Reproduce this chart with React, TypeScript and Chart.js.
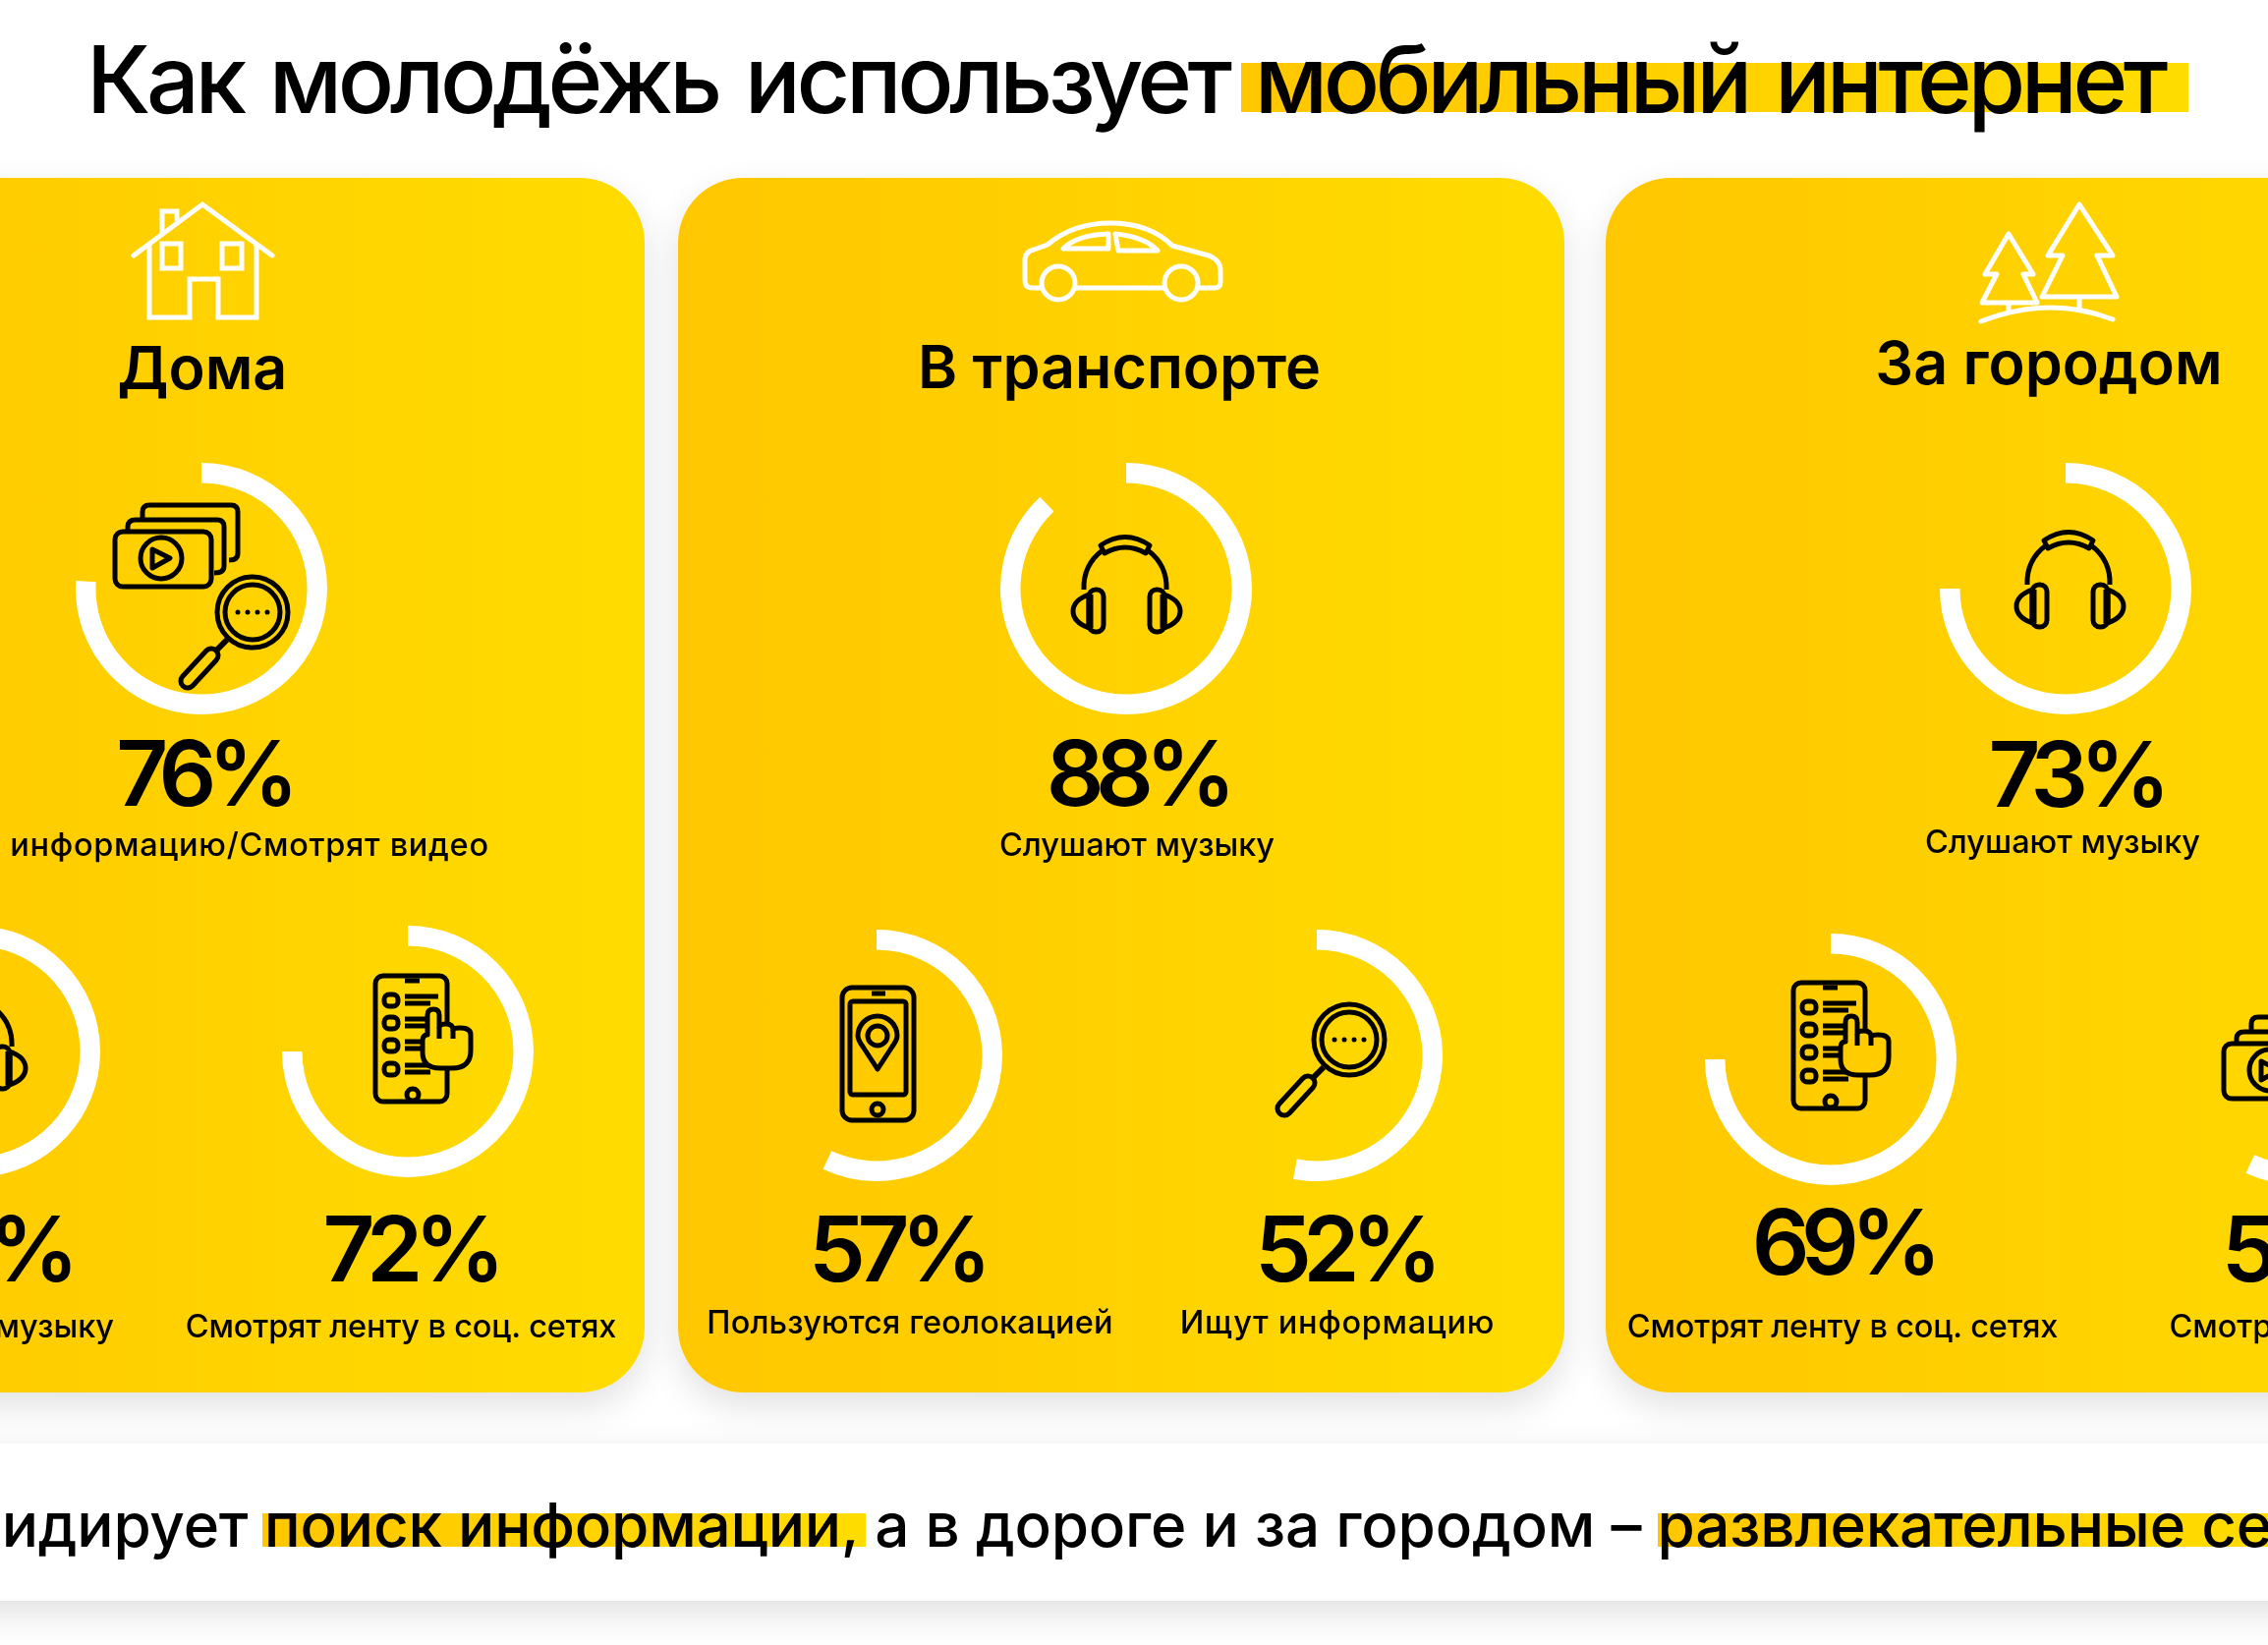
import { Chart, registerables } from "chart.js";
import { useEffect, useRef } from "react";

Chart.register(...registerables);

// значения с картинки
const percentLabels = ["76%", "74%", "72%", "88%", "57%", "52%", "73%", "69%", "55%"];
const arcValues = [76, 74, 75, 88, 57, 53, 75, 75, 57];
const captions = [
    "Ищут информацию/Смотрят видео",
    "Слушают музыку",
    "Смотрят ленту в соц. сетях",
    "Слушают музыку",
    "Пользуются геолокацией",
    "Ищут информацию",
    "Слушают музыку",
    "Смотрят ленту в соц. сетях",
    "Смотрят видео",
];
const places = ["Дома", "В транспорте", "За городом"];

// разметка
const gaugeX = [205, -26, 415, 1146, 892, 1340, 2102, 1863, 2340];
const gaugeY = [599, 1070, 1070, 599, 1074, 1074, 599, 1078, 1078];
const percentX = [207, -16, 417, 1157, 912, 1368, 2112, 1875, 2352];
const percentY = [820, 1304, 1304, 820, 1304, 1304, 821, 1297, 1304];
const captionX = [204, -24, 408, 1157, 926, 1361, 2099, 1875, 2330];
const captionY = [871, 1361, 1361, 871, 1357, 1357, 868, 1361, 1361];
const captionSpacing = [0.7, 0, -0.15, 0, 0.15, 0.7, 0, -0.15, 0];
const placeX = [206, 1139, 2085];
const placeY = [396, 395, 391];
const cardX = [-246, 690, 1634];

const FONT = "Inter, sans-serif";
const CARD_W = 902;

function Gauge({ value, x, y }: { value: number; x: number; y: number }) {
    const canvasRef = useRef<HTMLCanvasElement | null>(null);

    useEffect(() => {
        const chart = new Chart(canvasRef.current!, {
            type: "doughnut",
            data: {
                datasets: [
                    {
                        data: [value, 100 - value],
                        backgroundColor: ["#ffffff", "rgba(0,0,0,0)"],
                        borderWidth: 0,
                    },
                ],
            },
            options: {
                animation: false,
                responsive: false,
                cutout: "84%",
                plugins: { legend: { display: false }, tooltip: { enabled: false } },
            },
        });
        return () => chart.destroy();
    }, [value]);

    return (
        <canvas
            ref={canvasRef}
            width={256}
            height={256}
            style={{ position: "absolute", left: x - 128, top: y - 128, width: 256, height: 256 }}
        />
    );
}

function House() {
    return (
        <g fill="none" stroke="#fff" strokeWidth={5}>
            <path d="M136 260 L206 208 L277 260" strokeLinecap="round" />
            <path d="M152 248 V323 H193 V284 H222 V323 H261 V248" />
            <path d="M165 237 V215 H180 V225" />
            <rect x={165} y={248} width={19} height={25} />
            <rect x={226} y={248} width={20} height={25} />
        </g>
    );
}

function Car() {
    return (
        <g transform="translate(1030 215)" fill="none" stroke="#fff" strokeWidth={5} strokeLinejoin="round">
            <path d="M30 78 H20 Q13 78 13 70 V50 Q13 41 22 39 L36 34 Q62 12 100 12 Q140 12 163 35 L200 45 Q212 50 212 60 V72 Q212 78 206 78 H190" />
            <path d="M64 78 H155" />
            <circle cx={47} cy={73} r={17} />
            <circle cx={172} cy={73} r={17} />
            <path d="M52 38 H98 V23 Q66 24 52 38 Z" />
            <path d="M105 23 L108 40 H148 Q135 26 105 23 Z" />
        </g>
    );
}

function Trees() {
    return (
        <g fill="none" stroke="#fff" strokeWidth={5} strokeLinejoin="round">
            <path d="M2116 208 L2084 260 H2099 L2078 302 H2154 L2134 260 H2150 Z" />
            <path d="M2044 238 L2020 279 H2032 L2017 308 H2073 L2059 279 H2069 Z" />
            <path d="M2116 302 V318 M2044 308 V320" />
            <path d="M2016 327 Q2085 300 2150 325" strokeLinecap="round" />
        </g>
    );
}

function Headphones({ x, y }: { x: number; y: number }) {
    return (
        <g transform={`translate(${x} ${y})`} fill="none" stroke="#000" strokeWidth={5} strokeLinejoin="round">
            <path d="M23 65 Q22 40 42 25" />
            <path d="M88 25 Q108 40 107 65" />
            <path d="M40 20 Q65 3 90 20 L86 28 Q65 16 44 28 Z" />
            <rect x={28} y={65} width={15} height={43} rx={7} />
            <rect x={90} y={65} width={15} height={43} rx={7} />
            <path d="M28 70 Q12 76 12 87 Q12 98 28 104" />
            <path d="M105 70 Q121 76 121 87 Q121 98 105 104" />
            <path d="M29 70 V104 M104 70 V104" strokeWidth={7} />
        </g>
    );
}

function PhoneList({ x, y, fill }: { x: number; y: number; fill: string }) {
    const rows = [37, 60, 83, 107];
    return (
        <g transform={`translate(${x} ${y})`} fill="none" stroke="#000" strokeWidth={5} strokeLinejoin="round">
            <rect x={12} y={12} width={73} height={128} rx={8} />
            <path d="M42 17 H57" />
            <circle cx={50} cy={133} r={6} />
            {rows.map((r) => (
                <g key={r}>
                    <rect x={21} y={r - 6} width={14} height={12} rx={5} />
                    <path d={`M42 ${r - 4} H76 M42 ${r + 3} H68`} />
                </g>
            ))}
            <path
                d="M60 78 Q60 72 65 72 V52 Q65 46 71 46 Q77 46 77 52 V64 Q78 61 84 61 Q91 61 91 67 Q92 65 98 65 Q109 65 109 72 V88 Q109 106 90 106 H78 Q60 106 60 90 Z"
                fill={fill}
            />
            <path d="M77 64 V76 M91 67 V76" />
        </g>
    );
}

function PhonePin() {
    return (
        <g transform="translate(845 995)" fill="none" stroke="#000" strokeWidth={5} strokeLinejoin="round">
            <rect x={12} y={10} width={73} height={135} rx={10} />
            <rect x={20} y={24} width={57} height={95} rx={3} />
            <path d="M42 16 H56" />
            <circle cx={48} cy={134} r={6} />
            <path d="M48 93 L33 70 Q28 63 28 59 A20 20 0 0 1 68 59 Q68 63 63 70 Z" />
            <circle cx={48} cy={59} r={10} />
        </g>
    );
}

function Magnifier({ x, y, fill }: { x: number; y: number; fill: string }) {
    return (
        <g transform={`translate(${x} ${y})`} fill="none" stroke="#000" strokeWidth={5}>
            <circle r={36} />
            <circle r={28} />
            {[-15, -5, 5, 15].map((d) => (
                <circle key={d} cx={d} r={2.5} fill="#000" stroke="none" />
            ))}
            <path d="M-26 28 L-38 40" strokeWidth={6} />
            <path d="M-42 44 L-66 70" strokeWidth={19} strokeLinecap="round" />
            <path d="M-42 44 L-66 70" strokeWidth={9} strokeLinecap="round" stroke={fill} />
        </g>
    );
}

function VideoCards({ x, y }: { x: number; y: number }) {
    return (
        <g transform={`translate(${x} ${y})`} fill="none" stroke="#000" strokeWidth={5} strokeLinejoin="round">
            <path d="M40 27 V21 Q40 14 47 14 H130 Q137 14 137 21 V63 Q137 70 128 70" />
            <path d="M25 40 V36 Q25 29 33 29 H116 Q123 29 123 36 V76 Q123 83 113 83" />
            <rect x={12} y={41} width={98} height={56} rx={8} />
            <circle cx={59} cy={68} r={21} />
            <path d="M50 59 L68 68 L50 78 Z" />
        </g>
    );
}

export default function App() {
    return (
        <div style={{ position: "absolute", left: 0, top: 0, width: 2308, height: 1674, overflow: "hidden", background: "#fff" }}>
            {cardX.map((x) => (
                <div
                    key={x}
                    style={{
                        position: "absolute",
                        left: x,
                        top: 181,
                        width: CARD_W,
                        height: 1236,
                        borderRadius: 66,
                        background: "linear-gradient(90deg, #ffc700, #ffdc00)",
                        boxShadow: "0 14px 36px rgba(0,0,0,0.12)",
                    }}
                />
            ))}
            <div
                style={{
                    position: "absolute",
                    left: -40,
                    top: 1469,
                    width: 2400,
                    height: 160,
                    background: "#fff",
                    boxShadow: "0 12px 34px rgba(0,0,0,0.13)",
                }}
            />
            <div style={{ position: "absolute", left: 1263, top: 64, width: 964, height: 50, background: "linear-gradient(90deg, #ffc700, #ffdc00)" }} />
            <div style={{ position: "absolute", left: 267, top: 1540, width: 614, height: 34, background: "linear-gradient(90deg, #ffc700, #ffdc00)" }} />
            <div style={{ position: "absolute", left: 1687, top: 1540, width: 640, height: 34, background: "linear-gradient(90deg, #ffc700, #ffdc00)" }} />

            {arcValues.map((v, i) => (
                <Gauge key={i} value={v} x={gaugeX[i]} y={gaugeY[i]} />
            ))}

            <svg width={2308} height={1674} style={{ position: "absolute", left: 0, top: 0, fontFamily: FONT }}>
                <House />
                <Car />
                <Trees />
                <VideoCards x={105} y={500} />
                <Magnifier x={257} y={623} fill="#ffd300" />
                <Headphones x={1080} y={535} />
                <Headphones x={2040} y={530} />
                <Headphones x={-95} y={1000} />
                <PhoneList x={370} y={981} fill="#ffd800" />
                <PhoneList x={1813} y={988} fill="#ffcc00" />
                <PhonePin />
                <Magnifier x={1373} y={1058} fill="#ffd800" />
                <VideoCards x={2251} y={1021} />

                <text x={88} y={115} fontSize={95} fontWeight={550} letterSpacing={-4.4} wordSpacing={6}>
                    Как молодёжь использует мобильный интернет
                </text>
                {places.map((p, i) => (
                    <text key={p} x={placeX[i]} y={placeY[i]} fontSize={61} fontWeight={600} textAnchor="middle">
                        {p}
                    </text>
                ))}
                {percentLabels.map((p, i) => (
                    <text key={i} x={percentX[i]} y={percentY[i]} fontSize={92} fontWeight={600} letterSpacing={-8.5} textAnchor="middle">
                        {p}
                    </text>
                ))}
                {captions.map((c, i) => (
                    <text
                        key={i}
                        x={captionX[i]}
                        y={captionY[i]}
                        fontSize={32.5}
                        fontWeight={500}
                        letterSpacing={captionSpacing[i]}
                        textAnchor="middle"
                    >
                        {c}
                    </text>
                ))}
                <text x={-223} y={1574} fontSize={62} fontWeight={550} letterSpacing={-0.2}>
                    Дома лидирует поиск информации, а в дороге и за городом – развлекательные сервисы
                </text>
            </svg>
        </div>
    );
}
